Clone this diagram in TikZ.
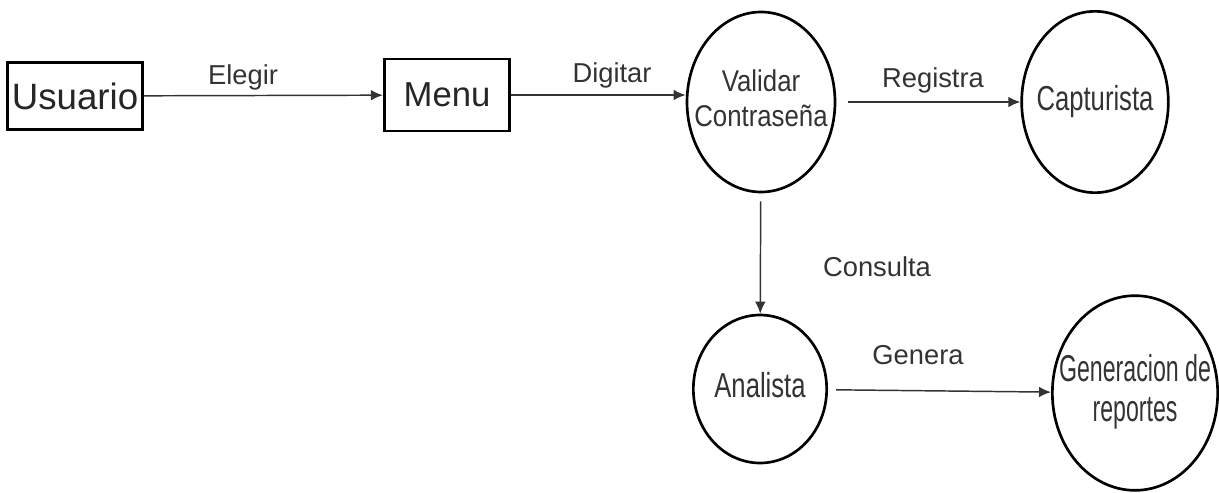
\documentclass[tikz,border=0pt]{standalone}
\usepackage{fontspec}
\setmainfont{Liberation Sans}
\newfontfamily\circfont[FakeStretch=0.74]{Liberation Sans}
\newfontfamily\valfont[FakeStretch=0.86]{Liberation Sans}
\newfontfamily\repfont[FakeStretch=0.62]{Liberation Sans}
\usetikzlibrary{shapes,arrows.meta,positioning}

% text that does not widen the ellipse
\newcommand{\intext}[1]{\makebox[0pt]{\begin{tabular}{@{}c@{}}#1\end{tabular}}}

\begin{document}
\begin{tikzpicture}[
    x=0.75pt, y=-0.75pt,
    entity/.style={rectangle, draw, line width=2.2pt, minimum width=101pt, minimum height=50pt, inner sep=0pt, font=\fontsize{26}{30}\selectfont, text=black!85},
    process/.style={ellipse, draw, line width=2pt, inner sep=0pt, text=black!80},
    arrow/.style={-{Latex[length=9pt,width=8pt]}, line width=1.1pt, draw=black!80},
    label/.style={font=\fontsize{20.5}{22}\selectfont, text=black!80}
]
\useasboundingbox (0,0) rectangle (1219,492);

% External entities
\node[entity, font=\fontsize{27.5}{30}\selectfont] (usuario) at (75,96) {Usuario};
\node[entity, minimum width=94pt, minimum height=54pt] (menu) at (447,95) {Menu};

% Processes
\node[process, minimum width=111pt, minimum height=135pt, font=\valfont\fontsize{22.5}{26}\selectfont] (validar) at (761,102) {\intext{Validar\\Contraseña}};
\node[process, minimum width=110pt, minimum height=136pt, font=\circfont\fontsize{26}{30}\selectfont] (capturista) at (1095,102) {\intext{Capturista}};
\node[process, minimum width=100pt, minimum height=111pt, font=\circfont\fontsize{26}{30}\selectfont] (analista) at (760,389) {\intext{Analista}};
\node[process, minimum width=124pt, minimum height=146pt, font=\repfont\fontsize{28}{30}\selectfont] (reportes) at (1135,393) {\intext{Generacion de\\reportes}};

% Flow labels
\node[label] (elegir) at (243,77) {Elegir};
\node[label] (digitar) at (612,75) {Digitar};
\node[label] (registra) at (933,80) {Registra};
\node[label] (consulta) at (877,267) {Consulta};
\node[label] (genera) at (918,355) {Genera};

% Flows
\draw[arrow] (usuario) -- (menu);
\draw[arrow] (menu) -- (menu -| validar.west);
\draw[arrow, shorten <=9pt] (validar) -- (capturista);
\draw[arrow, shorten <=6pt] (validar) -- (analista);
\draw[arrow, shorten <=6pt] (analista) -- (reportes);

\end{tikzpicture}
\end{document}
